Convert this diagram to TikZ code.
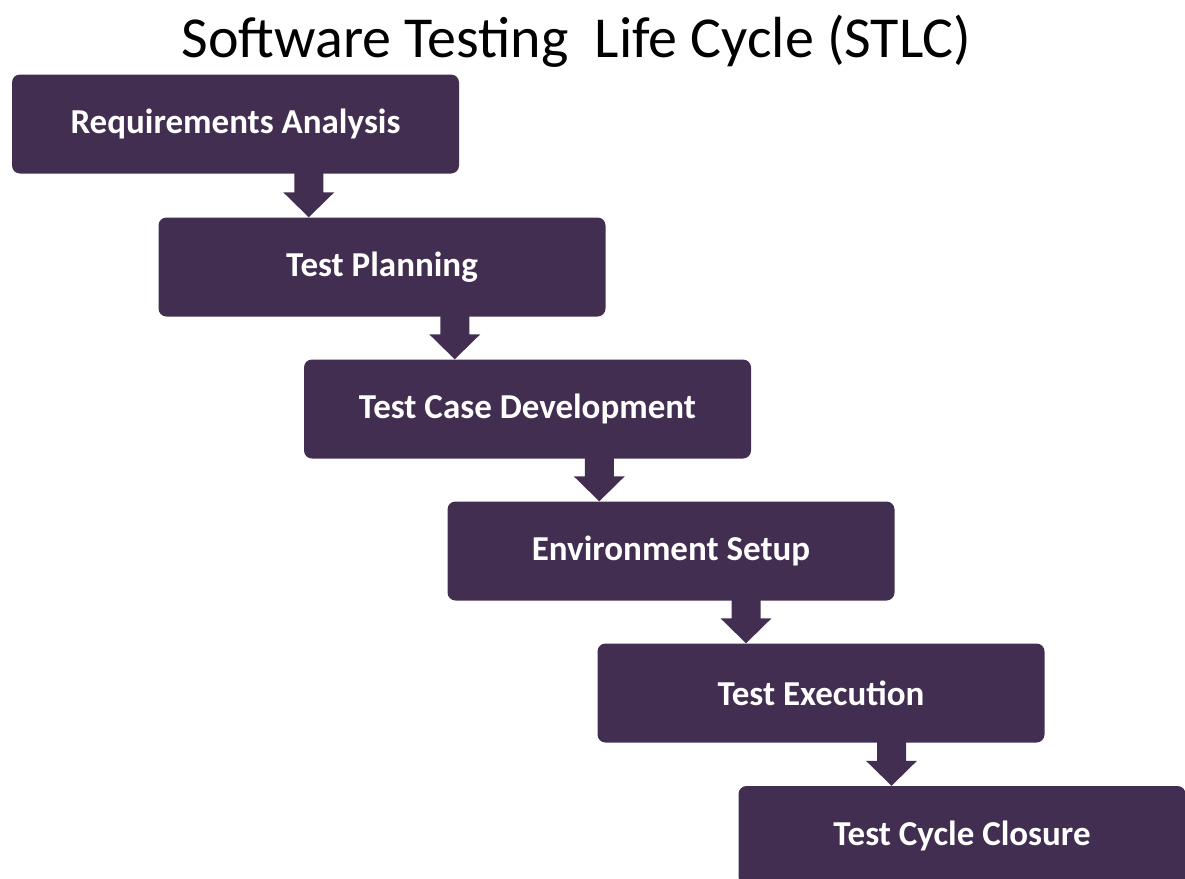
\documentclass[tikz,border=0pt]{standalone}
\usepackage{fontspec}
\setmainfont{Carlito}
\usetikzlibrary{calc}
\definecolor{stage}{HTML}{422E51}
\tikzset{
  stagebox/.style={rectangle, rounded corners=8pt, fill=stage, text=white,
    minimum width=447pt, minimum height=99pt, inner sep=0pt,
    font=\fontsize{35}{40}\selectfont\bfseries},
  flowarrow/.style={fill=stage},
}
% block arrow between two stacked stages, centred between their centres
\newcommand{\stagearrow}[2]{%
  \coordinate (m-#1) at ($(#1.center)!0.5!(#2.center)$);
  \fill[flowarrow]
    ($(m-#1 |- #1.south)+(-14.5,1)$) --
    ($(m-#1 |- #2.north)+(-14.5,25)$) --
    ($(m-#1 |- #2.north)+(-25.5,25)$) --
    (m-#1 |- #2.north) --
    ($(m-#1 |- #2.north)+(25.5,25)$) --
    ($(m-#1 |- #2.north)+(14.5,25)$) --
    ($(m-#1 |- #1.south)+(14.5,1)$) -- cycle;}
\begin{document}
\begin{tikzpicture}[x=1pt,y=1pt]
\useasboundingbox (0,0) rectangle (1185,-878);
\node[font=\fontsize{58}{68}\selectfont, anchor=base] (title) at (576.5,-57)
  {Software Testing\ \ Life Cycle (STLC)};
\node[stagebox] (s1) at (235.5,-124) {Requirements Analysis};
\node[stagebox] (s2) at (382,-267) {Test Planning};
\node[stagebox] (s3) at (527.5,-409) {Test Case Development};
\node[stagebox] (s4) at (671,-551) {Environment Setup};
\node[stagebox] (s5) at (821,-693) {Test Execution};
\node[stagebox] (s6) at (962,-835.5) {Test Cycle Closure};
\stagearrow{s1}{s2}
\stagearrow{s2}{s3}
\stagearrow{s3}{s4}
\stagearrow{s4}{s5}
\stagearrow{s5}{s6}
\end{tikzpicture}
\end{document}
